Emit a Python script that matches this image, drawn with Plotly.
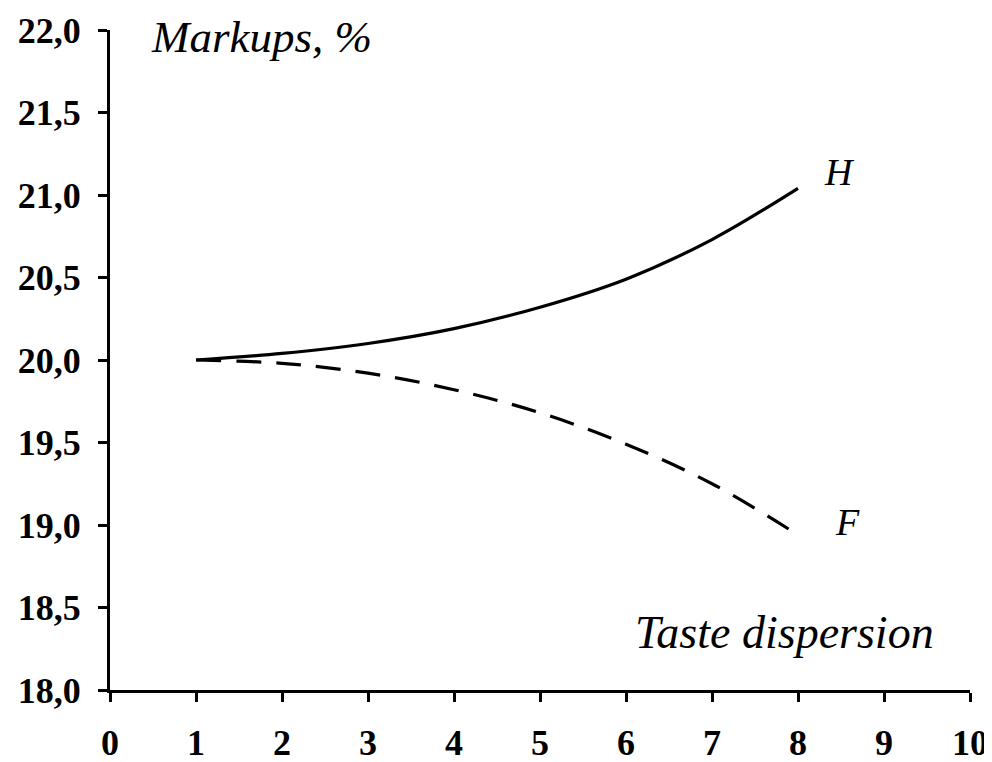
import plotly.graph_objects as go

x_vals = [1, 2, 3, 4, 5, 6, 7, 8]
h_vals = [20.00, 20.04, 20.10, 20.19, 20.32, 20.49, 20.73, 21.04]
f_vals = [20.00, 19.98, 19.92, 19.82, 19.68, 19.49, 19.25, 18.94]
x_ticks = [0, 1, 2, 3, 4, 5, 6, 7, 8, 9, 10]
y_ticks = [18.0, 18.5, 19.0, 19.5, 20.0, 20.5, 21.0, 21.5, 22.0]

SERIF = "Liberation Serif"

fig = go.Figure()
fig.add_trace(go.Scatter(x=x_vals, y=h_vals, mode="lines",
                         line=dict(color="black", width=3.2, shape="spline", smoothing=1.0),
                         showlegend=False, hoverinfo="skip"))
fig.add_trace(go.Scatter(x=x_vals, y=f_vals, mode="lines",
                         line=dict(color="black", width=3.2, shape="spline", smoothing=1.0, dash="25px,15px"),
                         showlegend=False, hoverinfo="skip"))

fig.update_layout(
    width=984, height=754,
    margin=dict(l=102, r=22, t=22, b=72),
    paper_bgcolor="white", plot_bgcolor="white",
    separators=", ",
    font=dict(family=SERIF, color="black"),
    xaxis=dict(range=[0, 10], tickvals=x_ticks, ticks="outside", ticklen=9, tickwidth=3, tickcolor="black",
               showline=True, linecolor="black", linewidth=3, showgrid=False, zeroline=False, automargin=False,
               tickfont=dict(family=SERIF, size=36, color="black", weight="bold"), ticklabelstandoff=10),
    yaxis=dict(range=[18, 22], tickvals=y_ticks, tickformat=".1f", ticks="outside", ticklen=9, tickwidth=3,
               tickcolor="black", showline=True, linecolor="black", linewidth=3, showgrid=False, zeroline=False,
               automargin=False,
               tickfont=dict(family=SERIF, size=36, color="black", weight="bold"), ticklabelstandoff=10),
)

annots = [
    dict(text="Markups, %", x=0.45, y=21.96, xanchor="left", yanchor="middle", size=45),
    dict(text="Taste dispersion", x=9.6, y=18.35, xanchor="right", yanchor="middle", size=46),
    dict(text="H", x=8.28, y=21.14, xanchor="left", yanchor="middle", size=38),
    dict(text="F", x=8.41, y=19.02, xanchor="left", yanchor="middle", size=38),
]
for a in annots:
    fig.add_annotation(x=a["x"], y=a["y"], xref="x", yref="y", text=a["text"], showarrow=False,
                       xanchor=a["xanchor"], yanchor=a["yanchor"],
                       font=dict(family=SERIF, size=a["size"], color="black", style="italic"))

fig.write_html("out.html")
